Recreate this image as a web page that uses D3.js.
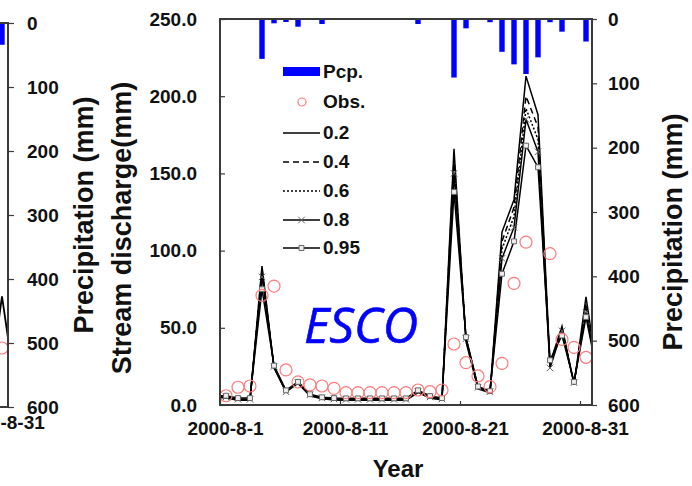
<!DOCTYPE html>
<html><head><meta charset="utf-8">
<script src="https://cdn.jsdelivr.net/npm/d3@7"></script>
<style>body{margin:0;background:#fff}svg{display:block}</style>
</head><body>
<script>
// ---- data ----
const days = ["2000-07-31","2000-08-01","2000-08-02","2000-08-03","2000-08-04","2000-08-05","2000-08-06","2000-08-07","2000-08-08","2000-08-09","2000-08-10","2000-08-11","2000-08-12","2000-08-13","2000-08-14","2000-08-15","2000-08-16","2000-08-17","2000-08-18","2000-08-19","2000-08-20","2000-08-21","2000-08-22","2000-08-23","2000-08-24","2000-08-25","2000-08-26","2000-08-27","2000-08-28","2000-08-29","2000-08-30","2000-08-31","2000-09-01"];
const sim02  = [5,4.5,3.0,3.0,90,24,8.5,14,6,4,3.3,3.0,3.0,3.0,3.0,3.0,3.0,8,4.5,3.3,166,41,10.5,8,112,133,213,188,27,51,13,70,18];
const sim04  = [5,4.7,3.2,3.2,88,24.5,8.8,14.3,6.2,4.2,3.5,3.2,3.2,3.2,3.2,3.2,3.2,8.3,4.8,3.5,160,42,11,8.3,106,128,200,180,26,50,13.5,66,18];
const sim06  = [5,5,3.5,3.5,86,25,9,14.5,6.5,4.4,3.7,3.4,3.4,3.4,3.4,3.4,3.4,8.5,5,3.7,155,43,11.5,8.5,101,122,192,172,25,49,14,63,18];
const sim08  = [5.2,5.2,3.7,3.7,83,25,8.6,14.7,6.7,4.6,3.9,3.6,3.6,3.6,3.6,3.6,3.6,8.8,5.2,3.9,150,43,11.5,8.6,95,115,185,164,24,48,14.5,60,18];
const sim095 = [6,6,4.5,4.5,75,25.5,9.5,15,7,5,4.5,4.3,4.3,4.3,4.3,4.3,4.3,9.5,5.8,4.5,138,44,12,9,85,106,168,154,29,45,15,57,18];
const obs = [null,6,11.5,12.3,71,77,22.7,15,13,12.3,10.8,8,8,8,8,8,8,9.7,8.6,9.7,39.5,27.4,18.8,11.9,27,78.8,105.5,null,98,42.5,37.3,30.9,null];
const pcp = [0,0,0,1,62,6.7,4.7,12,1,7.8,0,0,0,0,0,0,1,7.8,1,1,91,14.5,1,5,51,70.5,85.5,59.6,5,19.7,0,35,0];
const seriesNames = ["0.2","0.4","0.6","0.8","0.95"];
const qTicks = [0,50,100,150,200,250];
const pTicks = [0,100,200,300,400,500,600];
const dateTicks = ["2000-08-01","2000-08-11","2000-08-21","2000-08-31"];
// neighbouring (cropped) panel on the left
const leftDays = ["2000-08-30","2000-08-31","2000-09-01"];
const leftQ = [15,72,18];
const leftObs = [null,38.4,null];
const leftPcp = [0,34,0];

const simAll = [sim02, sim04, sim06, sim08, sim095];
const styles = [
  {dash:null, marker:null},
  {dash:"6,4", marker:null},
  {dash:"2,2", marker:null},
  {dash:null, marker:"x"},
  {dash:null, marker:"sq"}
];

const W = 692, H = 486;
const svg = d3.select("body").append("svg").attr("width", W).attr("height", H)
  .style("font-family", "'Liberation Sans', Arial, sans-serif");

const noon = s => new Date(Date.parse(s + "T12:00:00Z"));
const mid = s => new Date(Date.parse(s + "T00:00:00Z"));

const L = 220, R = 592, T = 19, B = 405;
const x = d3.scaleUtc().domain([mid("2000-08-01"), mid("2000-09-01")]).range([L, R]);
const y = d3.scaleLinear().domain([0, 250]).range([B, T]);
const yP = d3.scaleLinear().domain([0, 600]).range([T, B]);

svg.append("clipPath").attr("id", "clip").append("rect")
  .attr("x", L).attr("y", T).attr("width", R - L).attr("height", B - T);

const plot = svg.append("g").attr("clip-path", "url(#clip)");

// simulated lines
simAll.forEach((s, i) => {
  const pts = days.map((d, j) => [noon(d), s[j]]);
  plot.append("path")
    .datum(pts)
    .attr("fill", "none")
    .attr("stroke", "#000")
    .attr("stroke-width", 1.5)
    .attr("stroke-dasharray", styles[i].dash)
    .attr("d", d3.line().x(p => x(p[0])).y(p => y(p[1])));
});
// markers
const xSym = d3.symbol(d3.symbolX, 30);
const sqSym = d3.symbol(d3.symbolSquare, 24);
simAll.forEach((s, i) => {
  if (!styles[i].marker) return;
  plot.append("g").selectAll("path").data(days.map((d, j) => [noon(d), s[j]])).join("path")
    .attr("transform", p => `translate(${x(p[0])},${y(p[1])})`)
    .attr("d", styles[i].marker === "x" ? xSym() : sqSym())
    .attr("fill", styles[i].marker === "x" ? "none" : "#eee")
    .attr("stroke", "#666")
    .attr("stroke-width", 1);
});
// observed
plot.append("g").selectAll("circle")
  .data(days.map((d, j) => [noon(d), obs[j]]).filter(p => p[1] != null))
  .join("circle")
  .attr("cx", p => x(p[0])).attr("cy", p => y(p[1])).attr("r", 6)
  .attr("fill", "none").attr("stroke", "#ff7b7b").attr("stroke-width", 1.2);
// precipitation bars
plot.append("g").selectAll("rect")
  .data(days.map((d, j) => [noon(d), pcp[j]]).filter(p => p[1] > 0))
  .join("rect")
  .attr("x", p => x(p[0]) - 2.7).attr("width", 5.4)
  .attr("y", yP(0)).attr("height", p => yP(p[1]) - yP(0))
  .attr("fill", "#0000ff");

// frame
svg.append("rect").attr("x", L).attr("y", T).attr("width", R - L).attr("height", B - T)
  .attr("fill", "none").attr("stroke", "#3a3a3a").attr("stroke-width", 2);

const styleAxis = g => {
  g.select(".domain").remove();
  g.selectAll(".tick line").attr("stroke", "#3a3a3a").attr("stroke-width", 1.2);
  g.selectAll("text").attr("font-size", 19).attr("font-weight", "bold").attr("fill", "#111")
    .attr("font-family", "'Liberation Sans', Arial, sans-serif");
};

// left axis (discharge)
svg.append("g").attr("transform", `translate(${L},0)`)
  .call(d3.axisLeft(y).tickValues(qTicks).tickFormat(d3.format(".1f")).tickSize(-5).tickPadding(23))
  .call(styleAxis);
// right axis (precip)
svg.append("g").attr("transform", `translate(${R},0)`)
  .call(d3.axisRight(yP).tickValues(pTicks).tickSize(5).tickPadding(11))
  .call(styleAxis);
// bottom axis
const bx = svg.append("g").attr("transform", `translate(0,${B})`)
  .call(d3.axisBottom(x).tickValues(dateTicks.map(mid))
    .tickFormat(d => `${d.getUTCFullYear()}-${d.getUTCMonth() + 1}-${d.getUTCDate()}`).tickSize(-4))
  .call(styleAxis);
bx.selectAll("text").attr("x", 5).attr("y", 30).attr("dy", null);

// axis titles
svg.append("text").attr("transform", "translate(131,228) rotate(-90)")
  .attr("text-anchor", "middle").attr("font-size", 27).attr("font-weight", "bold").attr("fill", "#111")
  .text("Stream discharge(mm)");
svg.append("text").attr("transform", "translate(682,232) rotate(-90)")
  .attr("text-anchor", "middle").attr("font-size", 27).attr("font-weight", "bold").attr("fill", "#111")
  .text("Precipitation (mm)");
svg.append("text").attr("x", 398).attr("y", 477)
  .attr("text-anchor", "middle").attr("font-size", 24).attr("font-weight", "bold").attr("fill", "#111")
  .text("Year");

// ESCO label
svg.append("text").attr("x", 304).attr("y", 343)
  .attr("font-family", "'Open Sans', sans-serif").attr("font-style", "italic")
  .attr("font-size", 49).attr("fill", "#0000ff").attr("stroke", "#0000ff").attr("stroke-width", 0.6)
  .text("ESCO");

// legend
const lg = svg.append("g");
const lx0 = 283, lx1 = 320, ltx = 323;
const rowY = [71.5, 102, 133, 162, 191, 220, 248];
lg.append("rect").attr("x", lx0).attr("y", rowY[0] - 4.5).attr("width", lx1 - lx0).attr("height", 9).attr("fill", "#0000ff");
lg.append("circle").attr("cx", 302).attr("cy", rowY[1]).attr("r", 4)
  .attr("fill", "none").attr("stroke", "#ff7b7b").attr("stroke-width", 1.2);
seriesNames.forEach((n, i) => {
  const yy = rowY[i + 2];
  lg.append("line").attr("x1", lx0).attr("x2", lx1).attr("y1", yy).attr("y2", yy)
    .attr("stroke", "#000").attr("stroke-width", 1.3).attr("stroke-dasharray", styles[i].dash);
  if (styles[i].marker) {
    lg.append("path").attr("transform", `translate(${(lx0 + lx1) / 2},${yy})`)
      .attr("d", styles[i].marker === "x" ? xSym() : sqSym())
      .attr("fill", styles[i].marker === "x" ? "none" : "#eee").attr("stroke", "#666");
  }
});
const legendLabels = ["Pcp.", "Obs."].concat(seriesNames);
legendLabels.forEach((t, i) => {
  lg.append("text").attr("x", ltx).attr("y", rowY[i] + 6).attr("font-size", 19)
    .attr("font-weight", "bold").attr("fill", "#111").text(t);
});

// ---- cropped neighbouring panel (left edge) ----
const LR = 8, LT = 23, LB = 407;
const xl = d3.scaleUtc().domain([mid("2000-08-01"), mid("2000-09-01")]).range([LR - 372, LR]);
const yl = d3.scaleLinear().domain([0, 250]).range([LB, LT]);
const ylP = d3.scaleLinear().domain([0, 600]).range([LT, LB]);
svg.append("clipPath").attr("id", "clipL").append("rect")
  .attr("x", 0).attr("y", LT).attr("width", LR).attr("height", LB - LT);
const lp = svg.append("g").attr("clip-path", "url(#clipL)");
lp.append("path").datum(leftDays.map((d, j) => [noon(d), leftQ[j]]))
  .attr("fill", "none").attr("stroke", "#000").attr("stroke-width", 1.8)
  .attr("d", d3.line().x(p => xl(p[0])).y(p => yl(p[1])));
lp.selectAll("circle.o").data(leftDays.map((d, j) => [noon(d), leftObs[j]]).filter(p => p[1] != null))
  .join("circle").attr("cx", p => xl(p[0])).attr("cy", p => yl(p[1])).attr("r", 6)
  .attr("fill", "none").attr("stroke", "#ff7b7b").attr("stroke-width", 1.2);
lp.selectAll("rect.p").data(leftDays.map((d, j) => [noon(d), leftPcp[j]]).filter(p => p[1] > 0))
  .join("rect").attr("x", p => xl(p[0]) - 2.7).attr("width", 5.4)
  .attr("y", ylP(0)).attr("height", p => ylP(p[1]) - ylP(0)).attr("fill", "#0000ff");
svg.append("path").attr("d", `M0,${LT}H${LR}V${LB}H0`).attr("fill", "none")
  .attr("stroke", "#3a3a3a").attr("stroke-width", 2);
svg.append("g").attr("transform", `translate(${LR},0)`)
  .call(d3.axisRight(ylP).tickValues(pTicks).tickSize(6).tickPadding(13))
  .call(styleAxis);
const lbx = svg.append("g").attr("transform", `translate(0,${LB})`)
  .call(d3.axisBottom(xl).tickValues([mid("2000-08-31")])
    .tickFormat(d => `${d.getUTCFullYear()}-${d.getUTCMonth() + 1}-${d.getUTCDate()}`).tickSize(0))
  .call(styleAxis);
lbx.selectAll("text").attr("x", 5).attr("y", 22).attr("dy", null);
svg.append("text").attr("transform", "translate(93,215) rotate(-90)")
  .attr("text-anchor", "middle").attr("font-size", 27).attr("font-weight", "bold").attr("fill", "#111")
  .text("Precipitation (mm)");
</script>
</body></html>
